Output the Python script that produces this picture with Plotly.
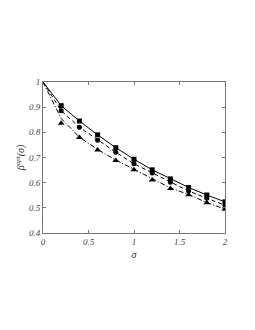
import plotly.graph_objects as go

sigma = [0, 0.2, 0.4, 0.6, 0.8, 1.0, 1.2, 1.4, 1.6, 1.8, 2.0]

# marker (simulation) values, starting at sigma=0.2
sq_vals = [0.906, 0.845, 0.790, 0.739, 0.693, 0.651, 0.615, 0.581, 0.551, 0.524]
ci_vals = [0.886, 0.820, 0.769, 0.721, 0.675, 0.638, 0.602, 0.567, 0.538, 0.510]
tr_vals = [0.836, 0.779, 0.730, 0.688, 0.651, 0.611, 0.577, 0.552, 0.520, 0.494]

# line (analytic) values, starting at sigma=0
sq_line = [1.0, 0.906, 0.845, 0.790, 0.739, 0.693, 0.651, 0.615, 0.581, 0.551, 0.524]
ci_line = [1.0, 0.886, 0.820, 0.769, 0.721, 0.675, 0.638, 0.602, 0.567, 0.538, 0.510]
tr_line = [1.0, 0.855, 0.781, 0.732, 0.690, 0.653, 0.613, 0.579, 0.553, 0.521, 0.495]

x_ticks = [0, 0.5, 1, 1.5, 2]
x_tick_labels = ["0", "0.5", "1", "1.5", "2"]
y_ticks = [0.4, 0.5, 0.6, 0.7, 0.8, 0.9, 1.0]
y_tick_labels = ["0.4", "0.5", "0.6", "0.7", "0.8", "0.9", "1"]

fig = go.Figure()
fig.add_trace(go.Scatter(x=sigma, y=sq_line, mode="lines",
                         line=dict(color="black", width=1, dash="solid")))
fig.add_trace(go.Scatter(x=sigma, y=ci_line, mode="lines",
                         line=dict(color="black", width=1, dash="4px,3px")))
fig.add_trace(go.Scatter(x=sigma, y=tr_line, mode="lines",
                         line=dict(color="black", width=1, dash="5px,2px,1px,2px")))
fig.add_trace(go.Scatter(x=sigma[1:], y=sq_vals, mode="markers",
                         marker=dict(symbol="square", size=5, color="black")))
fig.add_trace(go.Scatter(x=sigma[1:], y=ci_vals, mode="markers",
                         marker=dict(symbol="circle", size=5, color="black")))
fig.add_trace(go.Scatter(x=sigma[1:], y=tr_vals, mode="markers",
                         marker=dict(symbol="triangle-up", size=6, color="black")))

tickfont = dict(family="Liberation Serif", size=9, color="#444")
axis_common = dict(showgrid=False, zeroline=False, showline=True, linecolor="#777",
                   linewidth=1, mirror="ticks", ticks="inside", ticklen=3,
                   tickcolor="#777", tickfont=tickfont)

fig.update_layout(
    width=255, height=330,
    margin=dict(l=31, r=38, t=74, b=105),
    paper_bgcolor="white", plot_bgcolor="white",
    showlegend=False,
    xaxis=dict(range=[0, 2], tickvals=x_ticks, ticktext=["<i>%s</i>" % t for t in x_tick_labels],
               title=dict(text="<i>σ</i>", font=dict(family="Liberation Serif", size=10, color="#333"),
                          standoff=5),
               **axis_common),
    yaxis=dict(range=[0.4, 1.0], tickvals=y_ticks, ticktext=["<i>%s</i>" % t for t in y_tick_labels],
               title=dict(text="<i>β<sup>opt</sup>(σ)</i>", font=dict(family="Liberation Serif", size=10, color="#333"),
                          standoff=2),
               **axis_common),
)

fig.write_html("out.html")
